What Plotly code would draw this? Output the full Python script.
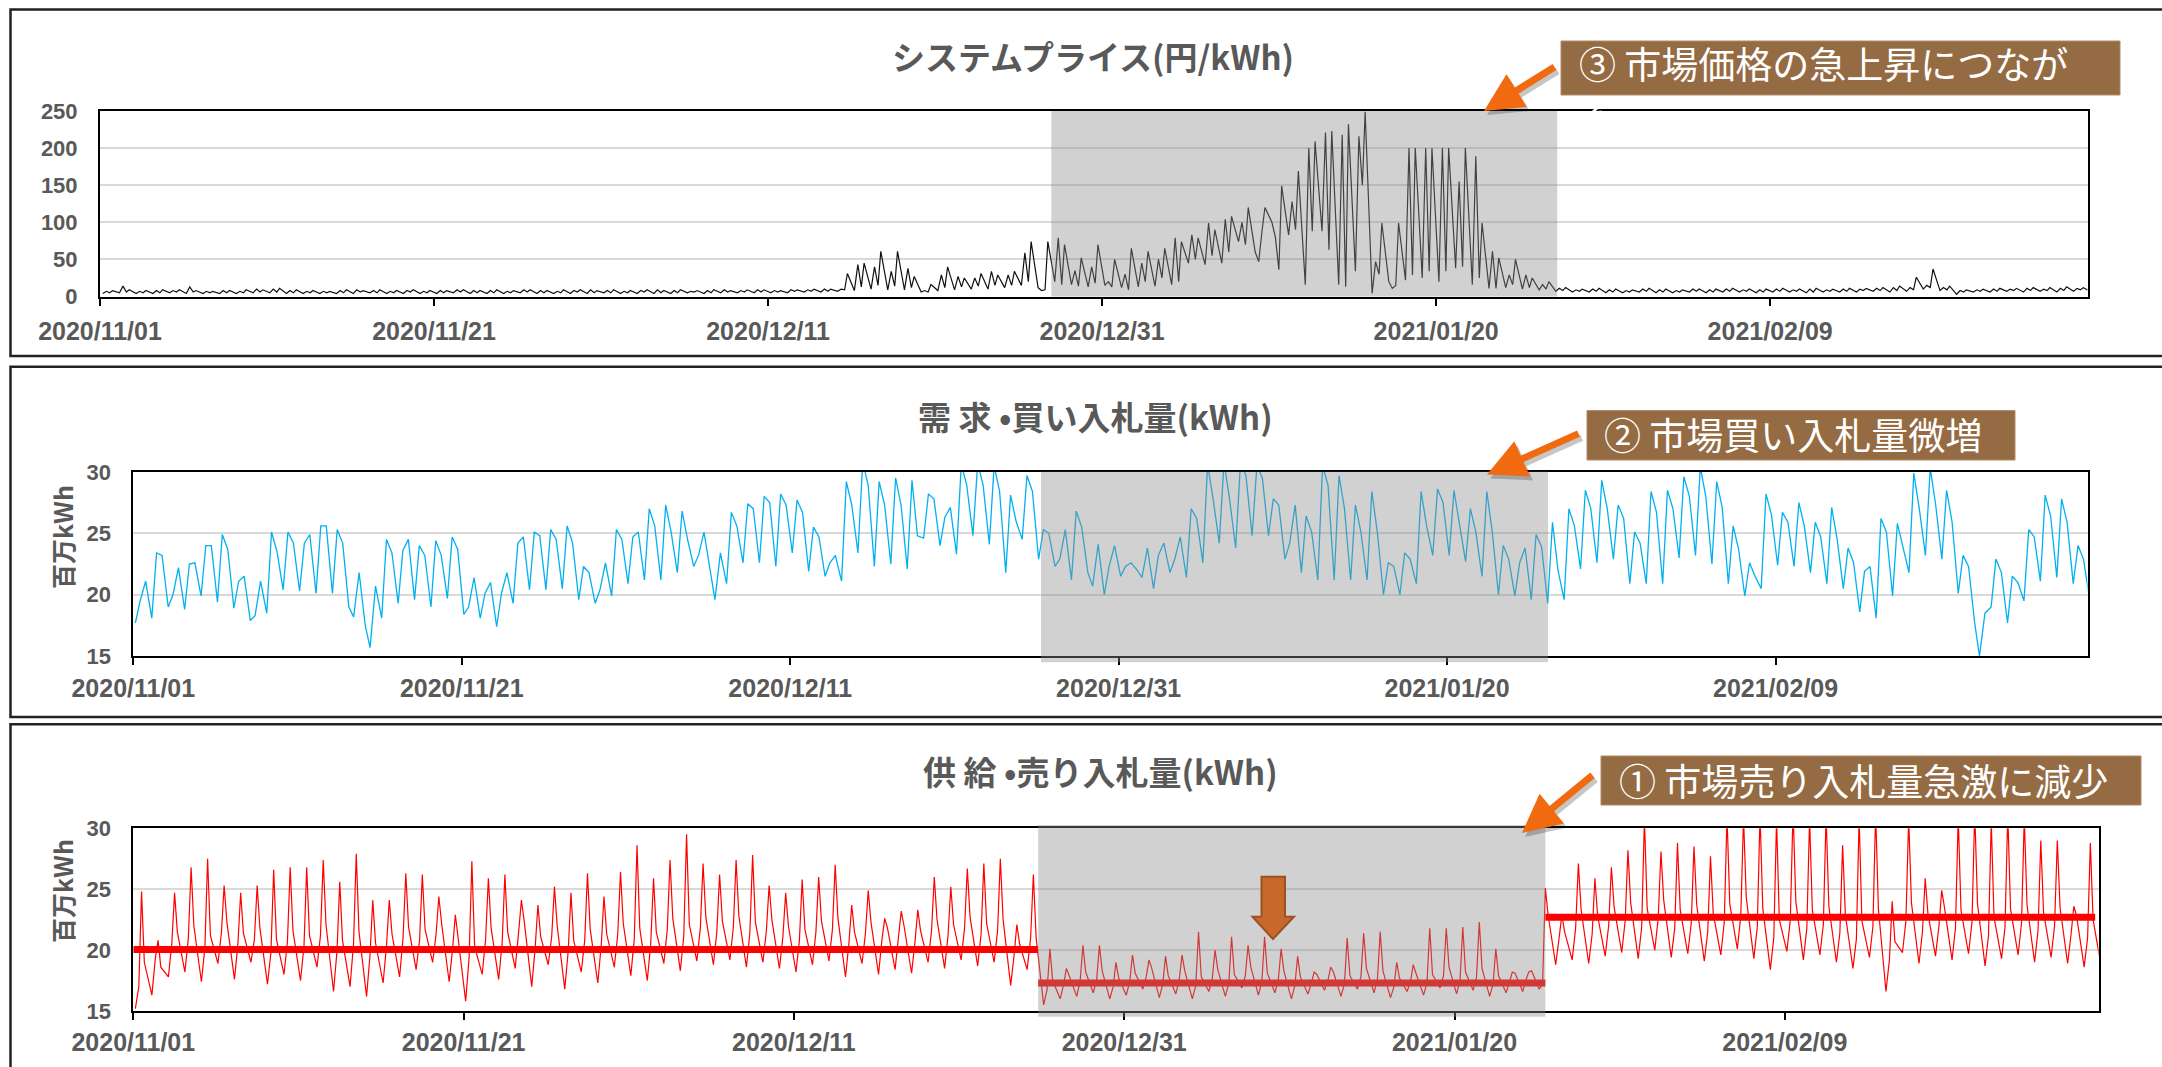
import datetime as dt
import plotly.graph_objects as go

W, H = 2162, 1067

# ---------------------------------------------------------------
# Daily readings, 2020-11-01 .. 2021-02-28 (120 days)
# ---------------------------------------------------------------
# System price (yen/kWh): night, morning, midday, evening
price_night = [4, 5, 4, 4, 5, 4, 4, 4, 4, 5, 5, 4, 4, 4, 4, 4, 5, 4, 4, 4,
               4, 5, 4, 4, 4, 5, 4, 4, 4, 4, 5, 4, 4, 4, 4, 5, 4, 5, 5, 5,
               5, 5, 6, 6,
               7, 8, 10, 9, 9, 6, 8, 9, 10, 10, 12, 15, 12, 20, 16, 13, 15, 12, 13, 14,
               16, 45, 43, 45, 74, 60, 100, 83, 16, 88, 16, 34, 4, 20, 22, 25, 20, 38, 16, 11,
               12, 10, 9, 7,
               6, 6, 5, 5, 6, 5, 5, 6, 5, 6, 6, 5, 6, 6, 5, 6, 6, 6, 7, 6,
               7, 10, 8, 3, 6, 6, 7, 6, 7, 6, 7, 7]
price_morning = [7, 14, 7, 8, 8, 13, 7, 8, 7, 10, 10, 8, 7, 7, 8, 9, 8, 7, 8, 7,
                 8, 9, 8, 8, 7, 9, 8, 7, 8, 9, 8, 7, 8, 9, 8, 7, 8, 9, 8, 9,
                 8, 9, 9, 10,
                 10, 43, 40, 34, 38, 8, 29, 27, 25, 34, 29, 59, 8, 79, 35, 40, 20, 30, 45, 50,
                 79, 83, 99, 104, 100, 47, 80, 128, 200, 221, 218, 216, 47, 11, 200, 200, 200, 155, 189, 61,
                 29, 29, 16, 11,
                 9, 10, 9, 8, 10, 9, 8, 10, 9, 10, 9, 9, 10, 9, 10, 9, 10, 10, 11, 12,
                 12, 15, 12, 8, 9, 10, 10, 11, 10, 11, 11, 12]
price_midday = [5, 6, 5, 5, 6, 6, 5, 5, 5, 6, 6, 5, 5, 5, 5, 6, 5, 5, 6, 5,
                5, 6, 5, 5, 5, 6, 5, 5, 6, 5, 5, 5, 6, 5, 5, 6, 5, 6, 6, 6,
                6, 7, 7, 7,
                9, 13, 15, 14, 12, 6, 12, 13, 14, 15, 15, 20, 9, 16, 14, 18, 13, 9, 20, 25,
                20, 50, 55, 60, 70, 90, 36, 90, 88, 63, 13, 150, 30, 15, 29, 34, 34, 40, 25, 11,
                16, 12, 10, 8,
                7, 7, 6, 6, 7, 6, 6, 7, 6, 7, 7, 6, 7, 7, 6, 7, 7, 8, 8, 8,
                9, 12, 9, 6, 7, 7, 8, 8, 8, 8, 9, 9]
price_evening = [8, 9, 8, 9, 9, 8, 7, 8, 9, 9, 11, 9, 8, 7, 9, 8, 9, 8, 9, 8,
                 8, 9, 8, 9, 8, 9, 8, 9, 9, 8, 9, 8, 9, 8, 9, 8, 9, 8, 9, 9,
                 8, 9, 10, 10,
                 31, 45, 61, 61, 27, 16, 40, 25, 31, 29, 34, 74, 74, 70, 52, 70, 50, 65, 61, 65,
                 74, 79, 90, 108, 120, 120, 149, 169, 209, 223, 232, 249, 99, 99, 200, 200, 200, 200, 99, 52,
                 50, 25, 20, 12,
                 10, 11, 10, 9, 11, 10, 9, 10, 10, 11, 10, 10, 11, 10, 11, 10, 11, 11, 12, 14,
                 26, 37, 14, 9, 10, 11, 11, 12, 12, 13, 12, 13]

# Buy bids (million kWh): night trough, daytime peak, evening
demand_night = [17.7, 18.1, 19.0, 18.8, 19.9, 19.4, 18.9, 17.9, 18.5, 20.4,
                20.3, 20.1, 20.1, 19.0, 17.5, 18.1, 19.3, 19.6, 19.0, 19.7,
                18.4, 18.1, 17.4, 19.3, 20.4, 20.4, 20.5, 19.6, 19.3, 19.9,
                20.9, 21.2, 21.2, 21.8, 22.3, 21.8, 20.9, 22.6, 22.6, 22.3,
                23.4, 21.9, 21.5, 21.1, 23.4, 22.3, 22.5, 22.1, 24.6, 24.0,
                23.3, 24.8, 24.1, 21.8, 24.5, 22.9, 22.3, 21.2, 21.8, 20.0,
                21.5, 22.0, 20.5, 21.8, 21.4, 22.6, 24.2, 23.8, 24.8, 24.8,
                22.9, 21.8, 21.2, 21.2, 21.2, 21.2, 20.0, 20.0, 20.9, 23.2,
                23.2, 22.7, 21.5, 20.0, 19.9, 19.6, 19.3, 19.6, 22.1, 22.6,
                22.9, 20.9, 20.9, 20.9, 23.0, 23.2, 22.5, 20.9, 19.9, 20.5,
                22.4, 22.3, 21.8, 20.9, 20.5, 18.6, 18.1, 19.9, 21.8, 23.2,
                22.9, 20.1, 17.7, 19.0, 17.7, 19.5, 21.1, 21.4, 20.9, 19.6]
demand_peak = [19.5, 23.4, 20.0, 22.5, 24.0, 24.9, 21.1, 18.3, 25.1, 25.1,
               24.2, 25.6, 25.3, 18.2, 15.7, 24.5, 23.6, 24.0, 24.4, 24.7,
               19.0, 20.1, 20.1, 24.2, 25.1, 25.3, 25.6, 22.3, 20.4, 25.3,
               24.7, 27.0, 27.3, 26.8, 23.2, 19.6, 26.7, 27.4, 28.0, 28.2,
               27.7, 25.5, 22.6, 29.2, 30.8, 29.2, 29.5, 29.3, 28.2, 26.3,
               30.6, 30.7, 30.5, 28.1, 29.7, 25.3, 22.9, 26.8, 20.7, 22.3,
               22.3, 21.4, 23.2, 22.9, 27.0, 30.6, 30.8, 30.7, 30.5, 27.8,
               24.2, 26.4, 30.5, 29.7, 27.3, 28.4, 22.6, 23.4, 28.4, 28.6,
               28.5, 27.0, 28.4, 24.0, 22.6, 24.9, 25.9, 27.0, 28.5, 29.3,
               27.3, 25.1, 28.4, 28.5, 29.6, 30.4, 29.2, 25.6, 22.6, 28.2,
               26.7, 27.5, 25.9, 27.1, 23.8, 21.9, 26.2, 25.8, 29.9, 30.3,
               28.5, 23.2, 15.0, 22.9, 21.5, 25.3, 28.1, 27.8, 24.0, 21.5]
demand_evening = [21.1, 23.2, 22.2, 22.6, 24.0, 23.7, 21.5, 21.1, 23.5, 24.2,
                  24.9, 25.6, 24.2, 21.8, 20.7, 23.4, 24.5, 23.2, 23.2, 23.7,
                  21.4, 21.0, 21.8, 24.7, 24.8, 24.5, 24.2, 21.8, 22.6, 24.5,
                  25.1, 25.6, 25.1, 24.5, 25.1, 23.4, 25.6, 27.0, 27.5, 27.3,
                  26.7, 24.7, 23.2, 27.3, 28.9, 27.3, 27.3, 24.8, 27.8, 27.1,
                  28.9, 28.9, 28.4, 26.0, 28.4, 25.0, 25.3, 25.5, 24.1, 24.0,
                  22.6, 23.8, 24.2, 24.7, 26.2, 27.8, 27.8, 29.7, 29.5, 27.3,
                  27.3, 25.1, 28.9, 27.0, 25.1, 25.1, 22.3, 22.9, 25.6, 27.5,
                  25.6, 25.1, 25.1, 22.9, 23.8, 23.9, 22.0, 25.6, 27.0, 27.0,
                  26.2, 24.2, 26.7, 27.0, 28.0, 28.0, 27.1, 23.7, 21.5, 26.5,
                  25.9, 25.6, 24.7, 24.5, 22.6, 22.3, 25.1, 23.8, 27.0, 27.3,
                  25.9, 22.3, 18.5, 21.8, 21.0, 24.7, 26.4, 25.9, 22.9, 21.0]

# Sell bids (million kWh): night trough, morning, midday spike, afternoon
supply_night = [15.2, 16.3, 17.8, 18.2, 17.4, 18.9, 17.6, 19.0, 17.2, 18.0,
                17.5, 18.6, 16.6, 17.0, 16.2, 17.3, 17.8, 18.4, 19.0, 17.4,
                15.8, 18.0, 17.6, 18.5, 17.0, 18.8, 16.8, 18.2, 17.3, 18.6,
                17.9, 17.5, 18.9, 18.3, 19.1, 18.8, 19.2, 18.6, 19.0, 18.5,
                18.2, 18.8, 19.1, 17.8, 18.9, 18.0, 18.4, 18.1, 19.0, 18.5,
                19.2, 18.7, 19.0, 17.1, 18.4,
                15.5, 16.0, 16.2, 16.5, 16.0, 16.3, 16.8, 16.1, 16.4, 16.0,
                16.6, 16.2, 16.9, 16.3, 16.5, 16.0, 16.4, 16.7, 16.2, 16.8,
                16.5, 16.1, 16.6, 16.3, 16.9, 16.4, 16.7, 16.2, 16.5, 16.6,
                16.8, 18.8, 19.2, 18.9, 19.5, 19.8, 19.3, 20.0, 19.4, 19.7,
                19.1, 19.6, 20.1, 19.3, 18.4, 19.9, 19.2, 19.6, 19.0, 18.5,
                19.4, 16.6, 19.8, 18.9, 19.5, 19.2, 19.7, 18.7, 19.3, 19.6,
                19.0, 19.4, 18.9, 18.6, 18.9]
supply_morning = [17.0, 19.3, 20.6, 21.0, 20.2, 21.4, 20.5, 20.9, 19.8, 20.7,
                  20.3, 21.2, 19.9, 20.5, 19.6, 20.4, 21.0, 20.8, 21.3, 20.1,
                  19.4, 20.9, 20.6, 21.5, 20.2, 21.1, 19.9, 20.8, 20.4, 21.3,
                  20.9, 20.6, 21.7, 21.2, 21.8, 21.5, 21.9, 21.4, 21.6, 21.1,
                  20.8, 21.5, 21.7, 20.6, 21.4, 20.9, 21.1, 20.7, 21.6, 21.2,
                  21.8, 21.3, 21.6, 19.6, 21.0,
                  16.8, 17.2, 17.5, 17.6, 17.0, 17.4, 17.8, 17.2, 17.6, 17.1,
                  17.7, 17.3, 17.9, 17.4, 17.6, 17.1, 17.3, 17.5, 17.2, 17.8,
                  17.6, 17.0, 17.4, 17.3, 17.9, 17.5, 17.8, 17.2, 17.4, 17.6,
                  17.2, 21.0, 21.8, 21.3, 22.0, 22.4, 21.9, 22.6, 21.8, 22.2,
                  21.5, 22.3, 22.8, 21.9, 21.0, 22.5, 21.8, 22.1, 21.4, 20.9,
                  21.9, 19.2, 22.4, 21.5, 22.0, 21.8, 22.3, 21.2, 21.9, 22.2,
                  21.6, 22.0, 21.3, 21.0, 21.2]
supply_peak = [24.8, 20.8, 24.7, 26.8, 27.5, 25.3, 24.7, 25.3, 26.6, 26.8,
               26.8, 27.4, 25.6, 27.9, 24.1, 24.1, 26.3, 26.2, 24.4, 22.9,
               27.3, 25.9, 26.2, 24.1, 23.7, 25.2, 24.7, 26.3, 24.4, 26.4,
               28.6, 25.9, 27.4, 29.5, 27.1, 26.2, 27.4, 27.8, 25.3, 24.7,
               25.8, 26.0, 27.0, 23.7, 24.9, 22.6, 23.2, 23.3, 26.0, 25.2,
               26.7, 27.1, 27.5, 22.1, 26.2,
               20.1, 18.5, 20.4, 20.4, 19.0, 19.6, 19.2, 19.5, 19.6, 21.5,
               20.0, 21.1, 20.4, 21.1, 20.1, 19.5, 18.2, 18.6, 21.0, 21.4,
               21.5, 19.0, 18.8, 21.8, 21.8, 21.9, 22.3, 20.1, 18.2, 18.2,
               25.1, 22.9, 27.1, 25.9, 26.8, 28.2, 30.8, 28.1, 28.8, 28.5,
               27.7, 31.0, 30.9, 31.2, 30.7, 31.5, 30.8, 31.1, 28.6, 30.9,
               31.3, 24.0, 30.8, 25.9, 24.9, 31.0, 31.4, 30.6, 31.2, 30.9,
               29.0, 29.0, 23.6, 28.8, 18.9]
supply_evening = [19.0, 18.6, 21.5, 22.0, 21.2, 22.3, 21.4, 21.8, 20.9, 21.6,
                  21.2, 22.1, 20.8, 21.5, 20.6, 21.3, 21.9, 21.7, 22.2, 21.0,
                  20.3, 21.8, 21.5, 22.4, 21.1, 22.0, 20.8, 21.7, 21.3, 22.2,
                  21.8, 21.5, 22.6, 22.1, 22.7, 22.4, 22.8, 22.3, 22.5, 22.0,
                  21.7, 22.4, 22.6, 21.5, 22.3, 21.8, 22.0, 21.6, 22.5, 22.1,
                  22.7, 22.2, 22.5, 20.5, 21.0,
                  17.5, 17.9, 18.2, 18.3, 17.7, 18.1, 18.5, 17.9, 18.3, 17.8,
                  18.4, 18.0, 18.6, 18.1, 18.3, 17.8, 18.0, 18.2, 17.9, 18.5,
                  18.3, 17.7, 18.1, 18.0, 18.6, 18.2, 18.5, 17.9, 18.1, 18.3,
                  22.9, 21.5, 23.3, 22.8, 23.5, 23.9, 23.4, 24.1, 23.3, 23.7,
                  23.0, 23.8, 24.3, 23.4, 22.5, 24.0, 23.3, 23.6, 22.9, 22.4,
                  23.4, 20.7, 23.9, 23.0, 23.5, 23.3, 23.8, 22.7, 23.4, 23.7,
                  23.1, 23.5, 22.8, 22.5, 20.0]

# Average sell-bid level for each period
supply_mean_levels = [20.05, 17.3, 22.7]
supply_mean_bounds = ["2020-11-01 00:00", "2020-12-25 19:00",
                      "2021-01-25 12:00", "2021-02-27 19:00"]

titles = ["システムプライス(円/kWh)", "需 求 •買い入札量(kWh)", "供 給 •売り入札量(kWh)"]
callouts = ["③ 市場価格の急上昇につなが", "② 市場買い入札量微増", "① 市場売り入札量急激に減少"]
y_title = "百万kWh"

# ---------------------------------------------------------------
START = dt.datetime(2020, 11, 1)


def build(hours, columns):
    xs, ys = [], []
    for d in range(len(columns[0])):
        day = START + dt.timedelta(days=d)
        for h, col in zip(hours, columns):
            xs.append(day + dt.timedelta(hours=h))
            ys.append(col[d])
    return xs, ys


def fx(p):
    return p / W


def fy(p):
    return 1 - p / H


GREY_TXT = "#595959"
TICK_X = dict(family="Liberation Sans Narrow, Liberation Sans, Arial", size=25,
              color=GREY_TXT, weight="bold")
TICK_Y = dict(family="Liberation Sans, Arial", size=22, color=GREY_TXT, weight="bold")
CJK = "Noto Sans CJK JP"

fig = go.Figure()

px_, py_ = build([4, 9, 14, 18], [price_night, price_morning, price_midday, price_evening])
fig.add_trace(go.Scatter(x=px_, y=py_, mode="lines", line=dict(color="#111111", width=1.2),
                         xaxis="x", yaxis="y", hoverinfo="skip", showlegend=False))

dx_, dy_ = build([3, 10, 18], [demand_night, demand_peak, demand_evening])
fig.add_trace(go.Scatter(x=dx_, y=dy_, mode="lines", line=dict(color="#00B0F0", width=1.3),
                         xaxis="x2", yaxis="y2", hoverinfo="skip", showlegend=False))

sx_, sy_ = build([3, 8, 12, 16], [supply_night, supply_morning, supply_peak, supply_evening])
fig.add_trace(go.Scatter(x=sx_, y=sy_, mode="lines", line=dict(color="#FF0000", width=1.2),
                         xaxis="x3", yaxis="y3", hoverinfo="skip", showlegend=False))

mx, my = [], []
for i, lvl in enumerate(supply_mean_levels):
    mx += [supply_mean_bounds[i], supply_mean_bounds[i + 1], None]
    my += [lvl, lvl, None]
fig.add_trace(go.Scatter(x=mx, y=my, mode="lines", line=dict(color="#FF0000", width=7),
                         xaxis="x3", yaxis="y3", hoverinfo="skip", showlegend=False,
                         connectgaps=False))

X_RANGE = ["2020-11-01", "2021-02-28"]


def xaxis(left, right, anchor, standoff):
    return dict(domain=[fx(left), fx(right)], anchor=anchor, type="date", range=X_RANGE,
                tick0="2020-11-01", dtick=20 * 86400000, tickformat="%Y/%m/%d",
                ticks="outside", ticklen=7, tickwidth=2, tickcolor="#000",
                showline=True, linecolor="#000", linewidth=2, mirror=True,
                showgrid=False, zeroline=False, tickfont=TICK_X, automargin=False,
                ticklabelstandoff=standoff, fixedrange=True)


def yaxis(top, bottom, anchor, rng, step):
    return dict(domain=[fy(bottom), fy(top)], anchor=anchor, range=rng, tick0=rng[0],
                dtick=step, showgrid=True, gridcolor="#d9d9d9", gridwidth=2,
                showline=True, linecolor="#000", linewidth=2, mirror=True,
                ticks="", zeroline=False, tickfont=TICK_Y, ticklabelstandoff=16,
                automargin=False, fixedrange=True)


shapes = []
# panel frames
for top, bottom in [(9.5, 356), (366.8, 717), (724.3, 1072)]:
    shapes.append(dict(type="rect", xref="paper", yref="paper",
                       x0=fx(10.5), x1=fx(2165), y0=fy(bottom), y1=fy(top),
                       line=dict(color="#222222", width=2.5), layer="below"))

# highlighted period in each panel (drawn over the series)
hl = [("x", "y domain", "2020-12-27 23:00", "2021-01-27 06:00", 0.0, 1.0),
      ("x2", "y2 domain", "2020-12-26 06:30", "2021-01-26 03:30", -0.033, 1.0),
      ("x3", "y3 domain", "2020-12-25 19:00", "2021-01-25 12:00", -0.031, 1.018)]
for xr, yr, a, b, y0, y1 in hl:
    shapes.append(dict(type="rect", xref=xr, yref=yr, x0=a, x1=b, y0=y0, y1=y1,
                       fillcolor="rgba(140,140,140,0.4)", line=dict(width=0), layer="above"))

# callout boxes
boxes = [(1561, 41, 2120, 95), (1587, 410.6, 2015, 460), (1601, 756, 2141, 805)]
for x0, y0, x1, y1 in boxes:
    shapes.append(dict(type="rect", xref="paper", yref="paper",
                       x0=fx(x0), x1=fx(x1), y0=fy(y1), y1=fy(y0),
                       fillcolor="#956B43", line=dict(color="#B08A66", width=1), layer="above"))

# block arrow pointing down onto the sell-bid series
pts = [(1261.5, 876.7), (1285, 876.7), (1285, 916.7), (1294, 916.7), (1273, 939),
       (1252.5, 916.7), (1261.5, 916.7)]
path = "M " + " L ".join(f"{fx(x):.5f},{fy(y):.5f}" for x, y in pts) + " Z"
shapes.append(dict(type="path", xref="paper", yref="paper", path=path,
                   fillcolor="#C9682B", line=dict(color="#9A5224", width=2), layer="above"))

annotations = []
for text, cx, cy in zip(titles, [1093, 1095, 1100], [56, 415.6, 771]):
    annotations.append(dict(xref="paper", yref="paper", x=fx(cx), y=fy(cy), text=f"<b>{text}</b>",
                            showarrow=False, xanchor="center", yanchor="middle",
                            font=dict(family=CJK, size=33, color=GREY_TXT)))

for cy in [537, 891]:
    annotations.append(dict(xref="paper", yref="paper", x=fx(62), y=fy(cy), text=f"<b>{y_title}</b>",
                            showarrow=False, textangle=-90, xanchor="center", yanchor="middle",
                            font=dict(family=CJK, size=25, color=GREY_TXT)))

for text, tx, cy in zip(callouts, [1577, 1602, 1617], [63, 434, 780]):
    annotations.append(dict(xref="paper", yref="paper", x=fx(tx), y=fy(cy), text=text,
                            showarrow=False, xanchor="left", yanchor="middle", height=42,
                            font=dict(family=CJK, size=37, color="white")))
# wrapped last character of the top callout
annotations.append(dict(xref="paper", yref="paper", x=fx(1577), y=fy(112), text="る",
                        showarrow=False, xanchor="left", yanchor="middle", height=36,
                        font=dict(family=CJK, size=37, color="white")))

# orange pointer arrows (with soft shadow)
arrows = [((1484, 111), (1556, 66)), ((1487, 474.5), (1580, 433)), ((1522, 833), (1594, 774))]
for (tipx, tipy), (tx, ty) in arrows:
    for dxs, dys, col in [(3, 4, "rgba(0,0,0,0.22)"), (0, 0, "#F26A10")]:
        annotations.append(dict(xref="paper", yref="paper", x=fx(tipx + dxs), y=fy(tipy + dys),
                                ax=tx - tipx, ay=ty - tipy, text="", showarrow=True,
                                arrowhead=2, arrowsize=1.1, arrowwidth=7, arrowcolor=col,
                                standoff=0, startstandoff=0))

fig.update_layout(
    width=W, height=H, margin=dict(l=0, r=0, t=0, b=0, autoexpand=False),
    paper_bgcolor="white", plot_bgcolor="white", showlegend=False,
    xaxis=xaxis(100, 2087.5, "y", 4),
    yaxis=yaxis(111, 296.5, "x", [0, 250], 50),
    xaxis2=xaxis(133.3, 2087.6, "y2", 2),
    yaxis2=yaxis(471.8, 656.2, "x2", [15, 30], 5),
    xaxis3=xaxis(133.3, 2098.6, "y3", 1),
    yaxis3=yaxis(828.3, 1011, "x3", [15, 30], 5),
    shapes=shapes, annotations=annotations,
)

fig.write_html("out.html", config={"displayModeBar": False})
